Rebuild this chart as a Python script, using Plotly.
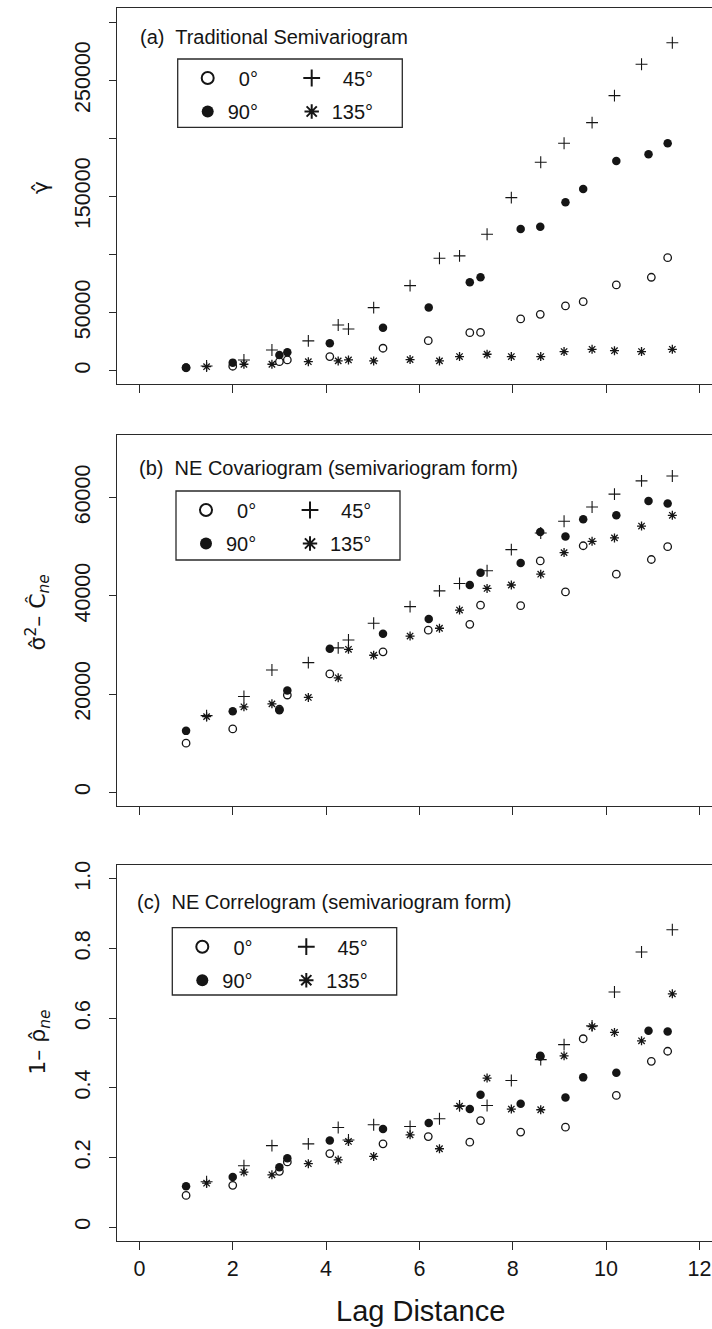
import plotly.graph_objects as go

# ---- lag distances (one list per direction) ----
lag_0 = [1.0, 2.0, 3.0, 3.17, 4.08, 5.22, 6.19, 7.08, 7.31, 8.17, 8.59, 9.13, 9.51, 10.22, 10.97, 11.32]
lag_90 = [1.0, 2.0, 3.0, 3.17, 4.08, 5.22, 6.2, 7.08, 7.31, 8.17, 8.59, 9.13, 9.51, 10.22, 10.91, 11.32]
lag_45 = [1.44, 2.24, 2.84, 3.62, 4.26, 4.48, 5.02, 5.8, 6.43, 6.86, 7.45, 7.97, 8.6, 9.1, 9.7, 10.18, 10.76, 11.42]
lag_135 = [1.44, 2.24, 2.84, 3.62, 4.26, 4.48, 5.02, 5.8, 6.43, 6.86, 7.45, 7.97, 8.6, 9.1, 9.7, 10.18, 10.76, 11.42]

# ---- (a) traditional semivariogram ----
semi_0 = [2500, 3800, 7700, 9200, 12100, 19300, 25800, 32700, 32900, 44500, 48500, 55700, 59400, 73800, 80400, 97300]
semi_90 = [2600, 6900, 13500, 15800, 23600, 37000, 54300, 76100, 80400, 122000, 124000, 145000, 156500, 180600, 186300, 195800]
semi_45 = [4000, 9200, 17800, 25600, 39300, 35900, 54300, 73200, 96800, 98800, 117400, 149000, 179400, 195800, 213600, 236800, 263800, 282400]
semi_135 = [3400, 5500, 5500, 7700, 8400, 9200, 8400, 9500, 8400, 12100, 14100, 12100, 12100, 16400, 18400, 17200, 16400, 18400]

# ---- (b) NE covariogram, semivariogram form ----
cov_0 = [10000, 12900, 16900, 19800, 24100, 28600, 33000, 34200, 38100, 38000, 47100, 40800, 50200, 44400, 47400, 50000]
cov_90 = [12500, 16500, 16700, 20700, 29200, 32300, 35300, 42200, 44700, 46700, 53000, 52100, 55600, 56400, 59300, 58800]
cov_45 = [15600, 19500, 24900, 26400, 29400, 31000, 34400, 37800, 41000, 42500, 45100, 49400, 52800, 55200, 58100, 60700, 63400, 64400]
cov_135 = [15400, 17400, 18000, 19300, 23300, 29100, 27900, 31800, 33400, 37100, 41500, 42200, 44400, 48800, 51100, 51800, 54200, 56400]

# ---- (c) NE correlogram, semivariogram form ----
cor_0 = [0.091, 0.120, 0.160, 0.187, 0.211, 0.239, 0.260, 0.244, 0.306, 0.273, 0.490, 0.287, 0.541, 0.378, 0.476, 0.505]
cor_90 = [0.117, 0.144, 0.172, 0.198, 0.249, 0.282, 0.299, 0.339, 0.380, 0.354, 0.492, 0.372, 0.430, 0.443, 0.564, 0.562]
cor_45 = [0.130, 0.176, 0.234, 0.239, 0.286, 0.250, 0.294, 0.289, 0.311, 0.348, 0.349, 0.421, 0.481, 0.524, 0.578, 0.675, 0.790, 0.854]
cor_135 = [0.126, 0.158, 0.150, 0.182, 0.193, 0.246, 0.203, 0.265, 0.225, 0.347, 0.428, 0.339, 0.337, 0.492, 0.576, 0.559, 0.535, 0.670]

direction_names = ["\u20070\u00b0", "\u200745\u00b0", "90\u00b0", "135\u00b0"]

x_ticks = [0, 2, 4, 6, 8, 10, 12]
x_ticktext = ["0", "2", "4", "6", "8", "10", "12"]
ya_ticks = [0, 50000, 150000, 250000]
ya_ticktext = ["0", "50000", "150000", "250000"]
ya_all_ticks = [0, 50000, 100000, 150000, 200000, 250000, 300000]
yb_ticks = [0, 20000, 40000, 60000]
yb_ticktext = ["0", "20000", "40000", "60000"]
yc_ticks = [0, 0.2, 0.4, 0.6, 0.8, 1.0]
yc_ticktext = ["0", "0.2", "0.4", "0.6", "0.8", "1.0"]

panel_titles = ["(a)\u00a0 Traditional Semivariogram",
                "(b)\u00a0 NE Covariogram (semivariogram form)",
                "(c)\u00a0 NE Correlogram (semivariogram form)"]
y_titles = ["\u03b3\u0302",
            "\u03c3\u0302<sup>2</sup>\u2013 \u0108<sub><i>ne</i></sub>",
            "1\u2013 \u03c1\u0302<sub><i>ne</i></sub>"]

# ---- page geometry (pixels) ----
W, H = 712, 1329
L, R, T, B = 117, 0, 8, 88
PW, PH = W - L - R, H - T - B


def fx(px):
    return (px - L) / PW


def fy(py):
    return (H - B - py) / PH


FONT = "Liberation Sans, Arial, Helvetica, sans-serif"
MATH_FONT = "DejaVu Sans, Liberation Sans, sans-serif"
INK = "#151515"
AX = "#2a2a2a"

panels = [
    dict(top=8.3, bottom=384, yr=[-11500, 312000], tv=ya_ticks, tt=ya_ticktext, marks=ya_all_ticks,
         series=[semi_0, semi_45, semi_90, semi_135]),
    dict(top=435, bottom=806, yr=[-2800, 72750], tv=yb_ticks, tt=yb_ticktext, marks=yb_ticks,
         series=[cov_0, cov_45, cov_90, cov_135]),
    dict(top=865, bottom=1241, yr=[-0.04, 1.04], tv=yc_ticks, tt=yc_ticktext, marks=yc_ticks,
         series=[cor_0, cor_45, cor_90, cor_135]),
]
lags = [lag_0, lag_45, lag_90, lag_135]
markers = [
    dict(symbol="circle-open", size=7.5, color=INK, line=dict(width=1.3, color=INK)),
    dict(symbol="cross-thin-open", size=8.5, color=INK, line=dict(width=1.1, color=INK)),
    dict(symbol="circle", size=8.5, color=INK, line=dict(width=0)),
    dict(symbol="asterisk-open", size=7.5, color=INK, line=dict(width=1.3, color=INK)),
]

# legend box (left, top, right, bottom) and title positions per panel
legend_boxes = [(177.7, 59, 402.3, 127.3), (176, 491, 400, 560), (172.3, 927.7, 396.7, 995)]
title_pos = [(138, 37.5), (137, 468.3), (135, 901.7)]
ytitle_pos = [(40, 187), (37, 612.5), (40, 1041.7)]

fig = go.Figure()
layout = dict(
    width=W, height=H,
    margin=dict(l=L, r=R, t=T, b=B, pad=0),
    paper_bgcolor="white", plot_bgcolor="white",
    font=dict(family=FONT, color=INK, size=20),
    showlegend=True,
)
shapes = []
annotations = []

for i, p in enumerate(panels):
    n = i + 1
    xa = "x" if n == 1 else f"x{n}"
    ya = "y" if n == 1 else f"y{n}"
    ya_ticks_id = f"y{n + 3}"          # overlay axis carrying the short tick marks
    # two single-row legends per panel: first row (0, 45), second row (90, 135)
    leg_row1 = "legend" if n == 1 else f"legend{2 * n - 1}"
    leg_row2 = f"legend{2 * n}"
    for k in range(4):
        fig.add_trace(go.Scatter(
            x=lags[k], y=p["series"][k], mode="markers",
            marker=markers[k], name=direction_names[k],
            xaxis=xa, yaxis=ya,
            legend=leg_row1 if k < 2 else leg_row2,
            hoverinfo="x+y",
        ))
    # empty trace so the tick-mark overlay axis is drawn
    fig.add_trace(go.Scatter(x=[], y=[], xaxis=xa, yaxis=ya_ticks_id,
                             showlegend=False, hoverinfo="skip"))
    dom = [fy(p["bottom"]), fy(p["top"])]
    xkey = "xaxis" if n == 1 else f"xaxis{n}"
    ykey = "yaxis" if n == 1 else f"yaxis{n}"
    layout[xkey] = dict(
        domain=[0, 1], anchor=ya, range=[-0.48, 12.27],
        tickmode="array", tickvals=x_ticks, ticktext=x_ticktext,
        showticklabels=(n == 3),
        ticks="outside", ticklen=8, tickwidth=1, tickcolor=AX,
        showline=True, mirror=True, linecolor=AX, linewidth=1.2,
        showgrid=False, zeroline=False,
        tickfont=dict(size=21.5, family=FONT, color=INK),
    )
    # labelled axis: long white ticks push the rotated labels away from the frame
    layout[ykey] = dict(
        domain=dom, anchor=xa, range=p["yr"],
        tickmode="array", tickvals=p["tv"], ticktext=p["tt"],
        ticks="outside", ticklen=17, tickwidth=1, tickcolor="white",
        showline=True, mirror=False, linecolor=AX, linewidth=1.2,
        showgrid=False, zeroline=False, tickangle=-90,
        tickfont=dict(size=21.5, family=FONT, color=INK),
    )
    layout[f"yaxis{n + 3}"] = dict(
        overlaying=ya, anchor=xa, side="left", range=p["yr"],
        tickmode="array", tickvals=p["marks"], showticklabels=False,
        ticks="outside", ticklen=7, tickwidth=1, tickcolor=AX,
        showline=False, showgrid=False, zeroline=False,
    )
    # legend frame and rows
    bl, bt, br, bb = legend_boxes[i]
    shapes.append(dict(type="rect", xref="paper", yref="paper",
                       x0=fx(bl), x1=fx(br), y0=fy(bb), y1=fy(bt),
                       line=dict(color=AX, width=1.3), fillcolor="rgba(0,0,0,0)"))
    for row, key in enumerate([leg_row1, leg_row2]):
        row_y = bt + 17.5 + row * 33.5
        layout[key] = dict(
            orientation="h", x=fx(bl + 35 - 20 - 5), xanchor="left",
            y=fy(row_y - 18), yanchor="top",
            bgcolor="rgba(0,0,0,0)", borderwidth=0,
            font=dict(size=20, family=FONT, color=INK),
            itemsizing="constant", entrywidth=59, entrywidthmode="pixels",
            traceorder="normal", itemclick=False, itemdoubleclick=False,
        )
    tx, ty = title_pos[i]
    annotations.append(dict(text=panel_titles[i], xref="paper", yref="paper",
                            x=fx(tx), y=fy(ty), xanchor="left", yanchor="middle",
                            showarrow=False, font=dict(size=20, family=FONT, color=INK)))
    yx, yy = ytitle_pos[i]
    annotations.append(dict(text=y_titles[i], xref="paper", yref="paper",
                            x=fx(yx), y=fy(yy), xanchor="center", yanchor="middle",
                            textangle=-90, showarrow=False,
                            font=dict(size=22, family=MATH_FONT, color=INK)))

annotations.append(dict(text="Lag Distance", xref="paper", yref="paper",
                        x=fx(420), y=fy(1311), xanchor="center", yanchor="middle",
                        showarrow=False, font=dict(size=29, family=FONT, color=INK)))

layout["shapes"] = shapes
layout["annotations"] = annotations
fig.update_layout(**layout)
fig.write_html("out.html")
